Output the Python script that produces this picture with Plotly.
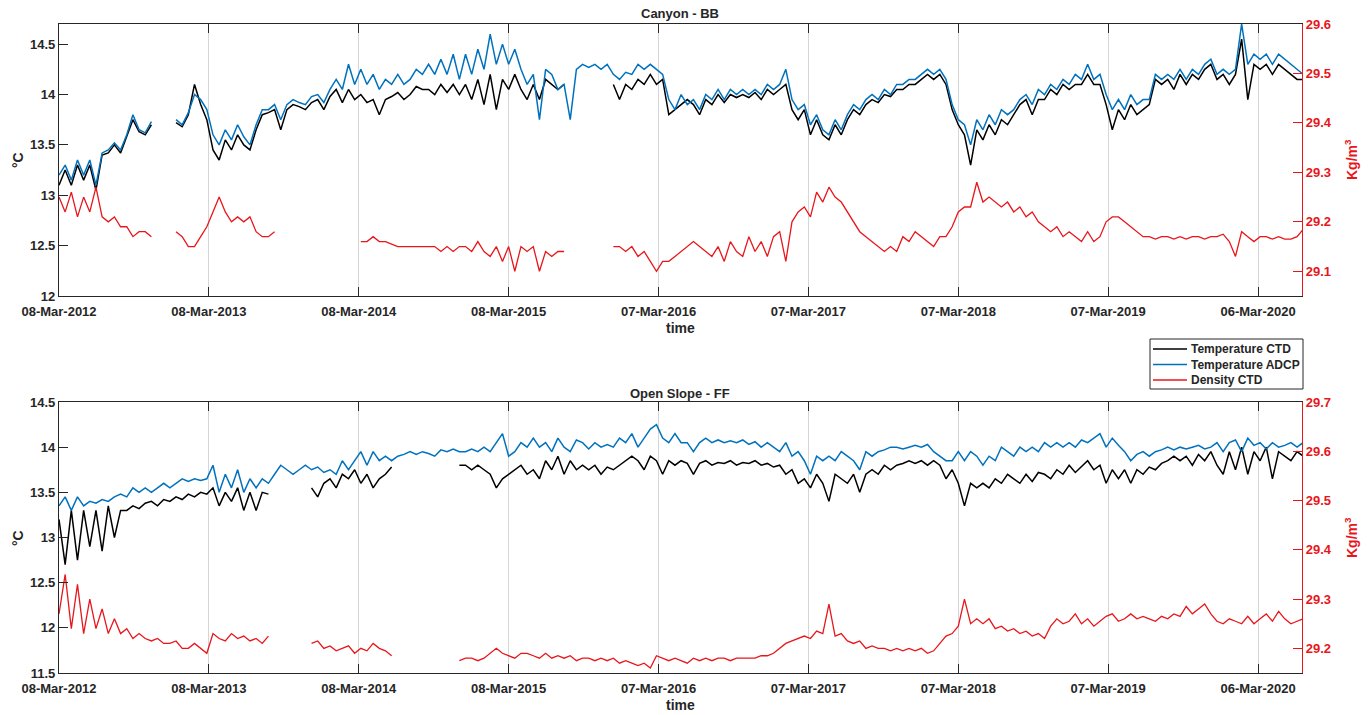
import plotly.graph_objects as go
import pandas as pd

# ---------------- data ----------------
# common 15-day time grid (203 samples) from 08-Mar-2012
dates = pd.date_range("2012-03-08", periods=203, freq="15D")
N = None

tick_dates = ["2012-03-08", "2013-03-08", "2014-03-08", "2015-03-08", "2016-03-07",
              "2017-03-07", "2018-03-07", "2019-03-07", "2020-03-06"]
tick_labels = ["08-Mar-2012", "08-Mar-2013", "08-Mar-2014", "08-Mar-2015", "07-Mar-2016",
               "07-Mar-2017", "07-Mar-2018", "07-Mar-2019", "06-Mar-2020"]

series_names = ["Temperature CTD", "Temperature ADCP", "Density CTD"]

# Canyon - BB
top_ctd = ([13.1, 13.25, 13.1, 13.3, 13.15, 13.3, 13.05, 13.4, 13.42, 13.5, 13.42, 13.58, 13.75, 13.63, 13.6, 13.7]
           + [N] * 3
           + [13.72, 13.68, 13.8, 14.1, 13.9, 13.75, 13.45, 13.35, 13.55, 13.45, 13.6, 13.5, 13.45, 13.65, 13.8, 13.82, 13.85]
           + [13.65, 13.85, 13.9, 13.88, 13.85, 13.92, 13.95, 13.85, 13.98, 14.05, 13.92, 14.05, 13.95, 14.0, 13.92,
              13.95, 13.8, 13.95, 13.98, 14.02, 13.95, 14.0, 14.08, 14.05, 14.05, 14.0, 14.1, 14.02, 14.1, 14.0]
           + [14.1, 13.95, 14.15, 13.9, 14.2, 13.85, 14.15, 14.05, 14.2, 14.05, 13.95, 14.1, 13.95, 14.15, 14.1, 14.05, 14.1]
           + [N] * 7
           + [14.1, 13.95, 14.1, 14.05, 14.15, 14.1, 14.2, 14.1, 14.15, 13.8, 13.85, 13.9, 13.95, 13.9, 13.8, 13.95,
              13.9, 14.0, 13.92, 14.0, 13.97, 14.0, 13.97, 14.02, 13.95, 14.05, 14.0, 14.05, 14.1, 13.85, 13.75, 13.85,
              13.6, 13.75, 13.6, 13.55, 13.7, 13.6, 13.75, 13.85, 13.8, 13.9, 13.95, 13.92, 14.0, 13.98, 14.05, 14.05]
           + [14.1, 14.1, 14.15, 14.2, 14.15, 14.2, 14.1, 13.85, 13.7, 13.6, 13.3, 13.65, 13.55, 13.7, 13.6, 13.75,
              13.7, 13.8, 13.9, 13.95, 13.8, 13.95, 13.95, 14.05, 14.0, 14.1, 14.05, 14.1, 14.1, 14.2, 14.1, 14.1,
              13.9, 13.65, 13.85, 13.75, 13.9, 13.8, 13.85, 13.9, 14.15, 14.1, 14.15, 14.05, 14.2, 14.1, 14.2, 14.15,
              14.25, 14.3, 14.15, 14.2, 14.1, 14.2, 14.55, 13.95, 14.3, 14.25, 14.3, 14.2, 14.3, 14.25, 14.2, 14.15, 14.15])

top_adcp = ([13.2, 13.3, 13.15, 13.35, 13.2, 13.35, 13.1, 13.42, 13.45, 13.52, 13.45, 13.6, 13.8, 13.65, 13.62, 13.73]
            + [N] * 3
            + [13.75, 13.7, 13.82, 14.0, 13.95, 13.85, 13.6, 13.5, 13.65, 13.55, 13.7, 13.58, 13.5, 13.7, 13.85, 13.85,
               13.9, 13.75, 13.9, 13.95, 13.92, 13.9, 13.98, 14.0, 13.92, 14.05, 14.15, 14.05, 14.3, 14.1, 14.25, 14.1,
               14.2, 14.05, 14.15, 14.1, 14.2, 14.1, 14.15, 14.25, 14.2, 14.3, 14.2, 14.35, 14.2, 14.4, 14.15]
            + [14.4, 14.2, 14.45, 14.25, 14.6, 14.3, 14.5, 14.3, 14.45, 14.25, 14.1, 14.2, 13.75, 14.25, 14.2, 14.05,
               14.1, 13.75, 14.25, 14.3, 14.27, 14.3, 14.25, 14.3, 14.2, 14.15, 14.22, 14.2, 14.3, 14.25, 14.3, 14.25,
               14.2, 13.95, 13.85, 14.0, 13.9, 13.95, 13.85, 14.0, 13.95, 14.05, 13.95, 14.05, 14.0, 14.05, 14.0, 14.05,
               14.0, 14.1, 14.05, 14.1, 14.25, 13.95, 13.85, 13.9, 13.7, 13.8, 13.65, 13.6, 13.75, 13.65, 13.8, 13.9,
               13.85, 13.95, 14.0, 13.95, 14.05, 14.0, 14.1, 14.1]
            + [14.15, 14.15, 14.2, 14.25, 14.2, 14.25, 14.15, 13.9, 13.75, 13.7, 13.5, 13.75, 13.65, 13.8, 13.7, 13.85,
               13.8, 13.85, 13.95, 14.0, 13.9, 14.05, 14.0, 14.1, 14.05, 14.15, 14.1, 14.2, 14.15, 14.3, 14.15, 14.2,
               14.0, 13.85, 13.95, 13.85, 14.0, 13.9, 13.95, 13.95, 14.2, 14.15, 14.2, 14.15, 14.25, 14.15, 14.25, 14.2,
               14.3, 14.35, 14.2, 14.25, 14.2, 14.25, 14.7, 14.3, 14.4, 14.35, 14.4, 14.3, 14.4, 14.35, 14.3, 14.25, 14.2])

top_dens = ([29.25, 29.22, 29.26, 29.21, 29.25, 29.22, 29.27, 29.21, 29.2, 29.21, 29.19, 29.19, 29.17, 29.18, 29.18, 29.17]
            + [N] * 3
            + [29.18, 29.17, 29.15, 29.15, 29.17, 29.19, 29.22, 29.25, 29.22, 29.2, 29.21, 29.2, 29.21, 29.18, 29.17, 29.17, 29.18]
            + [N] * 13
            + [29.16, 29.16, 29.17, 29.16, 29.16, 29.155, 29.15, 29.15, 29.15, 29.15, 29.15, 29.15, 29.15, 29.14, 29.15,
               29.14, 29.15, 29.15, 29.14, 29.16, 29.14, 29.13, 29.15, 29.12, 29.15, 29.1, 29.15, 29.14, 29.15, 29.1,
               29.14, 29.13, 29.14, 29.14]
            + [N] * 7
            + [29.15, 29.15, 29.14, 29.15, 29.13, 29.14, 29.12, 29.1, 29.12, 29.12, 29.13, 29.14, 29.15, 29.16, 29.15,
               29.14, 29.13, 29.15, 29.12, 29.16, 29.14, 29.13, 29.17, 29.14, 29.16, 29.13, 29.17, 29.18, 29.12, 29.2,
               29.22, 29.23, 29.21, 29.26, 29.24, 29.27, 29.25, 29.24, 29.22, 29.2, 29.18, 29.17, 29.16, 29.15, 29.14,
               29.15, 29.14, 29.17]
            + [29.16, 29.18, 29.17, 29.16, 29.15, 29.17, 29.17, 29.19, 29.22, 29.23, 29.23, 29.28, 29.24, 29.25, 29.24,
               29.23, 29.24, 29.22, 29.23, 29.21, 29.22, 29.2, 29.19, 29.18, 29.19, 29.17, 29.18, 29.17, 29.16, 29.18,
               29.16, 29.17, 29.2, 29.21, 29.21, 29.2, 29.19, 29.18, 29.17, 29.17, 29.165, 29.17, 29.17, 29.165, 29.17,
               29.165, 29.17, 29.17, 29.165, 29.17, 29.17, 29.175, 29.16, 29.13, 29.18, 29.17, 29.16, 29.17, 29.17,
               29.165, 29.17, 29.165, 29.165, 29.17, 29.185])

# Open Slope - FF
bot_ctd = ([13.2, 12.7, 13.3, 12.75, 13.3, 12.9, 13.3, 12.85, 13.35, 13.0, 13.3, 13.3, 13.35, 13.32, 13.38, 13.4,
            13.35, 13.42, 13.4, 13.45, 13.42, 13.48, 13.45, 13.5, 13.48, 13.55, 13.35, 13.5, 13.4, 13.55, 13.3, 13.5,
            13.3, 13.5, 13.48]
           + [N] * 6
           + [13.55, 13.45, 13.6, 13.65, 13.55, 13.7, 13.65, 13.75, 13.6, 13.7, 13.55, 13.65, 13.7, 13.78]
           + [N] * 10
           + [13.8, 13.8, 13.75, 13.8, 13.75, 13.7, 13.55, 13.65, 13.7, 13.75, 13.8, 13.7, 13.75, 13.65, 13.85, 13.75,
              13.9, 13.7, 13.85, 13.75, 13.8, 13.75, 13.8, 13.7, 13.78, 13.75, 13.8, 13.85, 13.9, 13.85, 13.75, 13.9,
              13.85, 13.7, 13.85, 13.8, 13.85, 13.82, 13.7, 13.82, 13.85, 13.8, 13.83, 13.82, 13.85, 13.8, 13.83, 13.82,
              13.85, 13.8, 13.82, 13.78, 13.8, 13.7, 13.75, 13.6, 13.65, 13.55, 13.7, 13.6, 13.4, 13.7, 13.65, 13.6,
              13.7, 13.5, 13.7, 13.75, 13.7, 13.8, 13.75, 13.8, 13.82]
           + [13.85, 13.82, 13.85, 13.8, 13.85, 13.8, 13.65, 13.75, 13.6, 13.35, 13.6, 13.55, 13.6, 13.55, 13.65, 13.6,
              13.7, 13.65, 13.6, 13.7, 13.62, 13.72, 13.7, 13.65, 13.75, 13.7, 13.8, 13.72, 13.78, 13.85, 13.75, 13.8,
              13.6, 13.75, 13.65, 13.75, 13.6, 13.75, 13.7, 13.78, 13.75, 13.82, 13.85, 13.9, 13.85, 13.9, 13.8, 13.92,
              13.85, 13.95, 13.8, 13.7, 13.95, 13.75, 14.0, 13.7, 13.95, 13.85, 14.0, 13.65, 13.95, 13.9, 13.85, 13.95, 13.9])

bot_adcp = ([13.35, 13.45, 13.3, 13.45, 13.35, 13.4, 13.38, 13.42, 13.4, 13.45, 13.48, 13.45, 13.55, 13.5, 13.55, 13.5,
             13.55, 13.6, 13.55, 13.6, 13.65, 13.62, 13.65, 13.63, 13.65, 13.8, 13.5, 13.7, 13.55, 13.75, 13.5, 13.65,
             13.55, 13.65, 13.6, 13.7, 13.8, 13.75, 13.7, 13.75, 13.8, 13.75, 13.78, 13.72, 13.75, 13.7, 13.85, 13.75,
             13.85, 13.95, 13.8, 13.95, 13.85, 13.9, 13.85, 13.9, 13.92, 13.95, 13.92, 13.95, 13.93, 13.9, 13.97, 13.95,
             13.98, 13.95]
            + [13.95, 13.98, 13.95, 14.0, 13.95, 14.05, 14.15, 13.9, 13.95, 14.05, 14.0, 14.1, 14.0, 14.05, 13.95, 14.1,
               14.0, 13.95, 14.08, 14.05, 13.98, 14.05, 14.0, 14.03, 14.0, 14.1, 14.05, 14.15, 14.0, 14.1, 14.2, 14.25,
               14.1, 14.05, 14.15, 14.05, 14.05, 13.95, 14.05, 14.1, 14.05, 14.08, 14.05, 14.07, 14.05, 14.08, 14.03,
               14.06, 14.0, 14.05, 14.0, 13.95, 14.05, 13.9, 13.95, 13.85, 13.7, 13.9, 13.85, 13.9, 13.85, 13.95, 13.9,
               13.85, 13.75, 13.95, 13.9, 13.95, 13.97, 14.0, 14.0, 13.98]
            + [14.0, 14.02, 14.0, 14.03, 13.95, 13.9, 13.85, 13.85, 13.95, 13.85, 13.95, 13.9, 13.8, 13.9, 13.85, 14.0,
               13.95, 13.9, 14.0, 13.95, 14.0, 13.95, 14.05, 14.0, 14.05, 14.0, 14.05, 14.0, 14.08, 14.05, 14.1, 14.15,
               14.0, 14.1, 14.02, 13.95, 13.85, 13.92, 13.95, 13.9, 13.95, 13.97, 14.0, 13.97, 14.0, 13.98, 14.0, 14.02,
               13.98, 14.0, 14.05, 13.95, 14.05, 14.08, 13.95, 14.1, 14.02, 14.05, 13.98, 14.05, 14.0, 14.02, 14.05, 14.0, 14.05])

bot_dens = ([29.27, 29.35, 29.24, 29.33, 29.23, 29.3, 29.24, 29.28, 29.23, 29.26, 29.23, 29.24, 29.22, 29.23, 29.22,
             29.215, 29.22, 29.21, 29.21, 29.215, 29.2, 29.2, 29.21, 29.2, 29.19, 29.23, 29.22, 29.215, 29.23, 29.22,
             29.225, 29.215, 29.22, 29.21, 29.225]
            + [N] * 6
            + [29.21, 29.215, 29.2, 29.205, 29.195, 29.2, 29.205, 29.19, 29.2, 29.195, 29.21, 29.2, 29.195, 29.185]
            + [N] * 10
            + [29.175, 29.18, 29.18, 29.175, 29.18, 29.19, 29.2, 29.19, 29.185, 29.18, 29.19, 29.19, 29.185, 29.18,
               29.19, 29.18, 29.185, 29.18, 29.185, 29.175, 29.18, 29.18, 29.175, 29.18, 29.175, 29.18, 29.17, 29.175,
               29.17, 29.165, 29.17, 29.16, 29.185, 29.18, 29.175, 29.18, 29.175, 29.17, 29.18, 29.175, 29.18, 29.175,
               29.18, 29.18, 29.175, 29.18, 29.18, 29.18, 29.18, 29.185,
               29.185, 29.19, 29.2, 29.21, 29.215, 29.22, 29.225, 29.22, 29.235, 29.23, 29.29, 29.225, 29.23, 29.215,
               29.21, 29.215, 29.2, 29.205, 29.2, 29.2, 29.195, 29.2, 29.195]
            + [29.2, 29.195, 29.2, 29.19, 29.195, 29.21, 29.225, 29.23, 29.245, 29.3, 29.25, 29.26, 29.25, 29.26, 29.24,
               29.245, 29.235, 29.24, 29.23, 29.235, 29.225, 29.23, 29.22, 29.245, 29.26, 29.25, 29.255, 29.27, 29.25,
               29.26, 29.245, 29.255, 29.265, 29.27, 29.255, 29.26, 29.27, 29.26, 29.265, 29.26, 29.255, 29.265, 29.26,
               29.27, 29.265, 29.285, 29.27, 29.28, 29.29, 29.27, 29.255, 29.25, 29.26, 29.255, 29.25, 29.265, 29.25,
               29.26, 29.27, 29.255, 29.275, 29.26, 29.25, 29.255, 29.26])

for s in (top_ctd, top_adcp, top_dens, bot_ctd, bot_adcp, bot_dens):
    assert len(s) == len(dates), len(s)

# ---------------- styling ----------------
W, H = 1368, 715
BLACK = "#000000"
BLUE = "#0072BD"
RED = "#E8161B"
AX = "#262626"
FONT = "Liberation Sans"
colors = [BLACK, BLUE, RED]

def px(x):
    return x / W

def py(y):
    return 1 - y / H

fig = go.Figure()

# top panel
fig.add_trace(go.Scatter(x=dates, y=top_ctd, mode="lines", name=series_names[0],
                         line=dict(color=BLACK, width=1.5), xaxis="x", yaxis="y"))
fig.add_trace(go.Scatter(x=dates, y=top_adcp, mode="lines", name=series_names[1],
                         line=dict(color=BLUE, width=1.5), xaxis="x", yaxis="y"))
fig.add_trace(go.Scatter(x=dates, y=top_dens, mode="lines", name=series_names[2],
                         line=dict(color=RED, width=1.3), xaxis="x", yaxis="y2"))
# bottom panel
fig.add_trace(go.Scatter(x=dates, y=bot_ctd, mode="lines", name=series_names[0],
                         line=dict(color=BLACK, width=1.5), xaxis="x2", yaxis="y3"))
fig.add_trace(go.Scatter(x=dates, y=bot_adcp, mode="lines", name=series_names[1],
                         line=dict(color=BLUE, width=1.5), xaxis="x2", yaxis="y3"))
fig.add_trace(go.Scatter(x=dates, y=bot_dens, mode="lines", name=series_names[2],
                         line=dict(color=RED, width=1.3), xaxis="x2", yaxis="y4"))

xdom = [px(59), px(1302)]
top_dom = [py(296), py(24)]
bot_dom = [py(673), py(402)]
xrange_ = ["2012-03-08", "2020-06-21"]
tickfont = dict(family=FONT, size=13, color=AX, weight="bold")
redfont = dict(family=FONT, size=13, color=RED, weight="bold")

def xaxis_cfg(anchor):
    return dict(domain=xdom, anchor=anchor, range=xrange_, tickmode="array",
                tickvals=tick_dates, ticktext=tick_labels, ticks="inside", ticklen=9,
                tickcolor=AX, showline=True, linecolor=AX, linewidth=1.2, mirror="ticks",
                showgrid=True, gridcolor="#d6d6d6", gridwidth=1, zeroline=False,
                tickfont=tickfont, tickangle=0, automargin=False, ticklabelstandoff=3)

def yleft_cfg(dom, anchor, rng):
    return dict(domain=dom, anchor=anchor, range=rng, dtick=0.5, tick0=11.5,
                ticks="inside", ticklen=9, tickcolor=AX, showline=True, linecolor=AX,
                linewidth=1.2, showgrid=False, zeroline=False, tickfont=tickfont,
                automargin=False)

def yright_cfg(over, anchor, rng, t0):
    return dict(overlaying=over, anchor=anchor, side="right", range=rng, dtick=0.1, tick0=t0,
                ticks="inside", ticklen=9, tickcolor=RED, showline=True, linecolor=RED,
                linewidth=1.2, showgrid=False, zeroline=False, tickfont=redfont,
                tickformat=".1f", automargin=False)

annots = [
    dict(text="<b>Canyon - BB</b>", x=px(680), y=py(14), font=dict(family=FONT, size=13, color=AX)),
    dict(text="<b>Open Slope - FF</b>", x=px(680), y=py(393), font=dict(family=FONT, size=13, color=AX)),
    dict(text="<b>time</b>", x=px(680), y=py(328), font=dict(family=FONT, size=14, color=AX)),
    dict(text="<b>time</b>", x=px(680), y=py(705), font=dict(family=FONT, size=14, color=AX)),
    dict(text="<b>°C</b>", x=px(18), y=py(160), textangle=-90, font=dict(family=FONT, size=14, color=AX)),
    dict(text="<b>°C</b>", x=px(18), y=py(538), textangle=-90, font=dict(family=FONT, size=14, color=AX)),
    dict(text="<b>Kg/m<sup>3</sup></b>", x=px(1351), y=py(160), textangle=-90,
         font=dict(family=FONT, size=14, color=RED)),
    dict(text="<b>Kg/m<sup>3</sup></b>", x=px(1351), y=py(538), textangle=-90,
         font=dict(family=FONT, size=14, color=RED)),
]
for a in annots:
    a.update(xref="paper", yref="paper", showarrow=False, xanchor="center", yanchor="middle")

# legend box drawn MATLAB-style (compact rows)
shapes = [dict(type="rect", xref="paper", yref="paper", x0=px(1150), x1=px(1303), y0=py(389), y1=py(339),
               line=dict(color=AX, width=1), fillcolor="white", layer="above")]
for k, (name, col) in enumerate(zip(series_names, colors)):
    yy = 349 + k * 15.5
    shapes.append(dict(type="line", xref="paper", yref="paper", x0=px(1153), x1=px(1187),
                       y0=py(yy), y1=py(yy), line=dict(color=col, width=1.5), layer="above"))
    annots.append(dict(text="<b>%s</b>" % name, xref="paper", yref="paper", x=px(1189), y=py(yy),
                       xanchor="left", yanchor="middle", showarrow=False,
                       font=dict(family=FONT, size=12, color=AX)))

fig.update_layout(
    width=W, height=H, margin=dict(l=0, r=0, t=0, b=0, autoexpand=False),
    paper_bgcolor="white", plot_bgcolor="white",
    font=dict(family=FONT, color=AX),
    xaxis=xaxis_cfg("y"),
    xaxis2=xaxis_cfg("y3"),
    yaxis=yleft_cfg(top_dom, "x", [12, 14.7]),
    yaxis2=yright_cfg("y", "x", [29.05, 29.6], 29.1),
    yaxis3=yleft_cfg(bot_dom, "x2", [11.5, 14.5]),
    yaxis4=yright_cfg("y3", "x2", [29.15, 29.7], 29.2),
    annotations=annots,
    shapes=shapes,
    showlegend=False,
)

fig.write_html("out.html", config={"displayModeBar": False},
               post_script="document.body.style.margin='0px';document.body.style.overflow='hidden';")
